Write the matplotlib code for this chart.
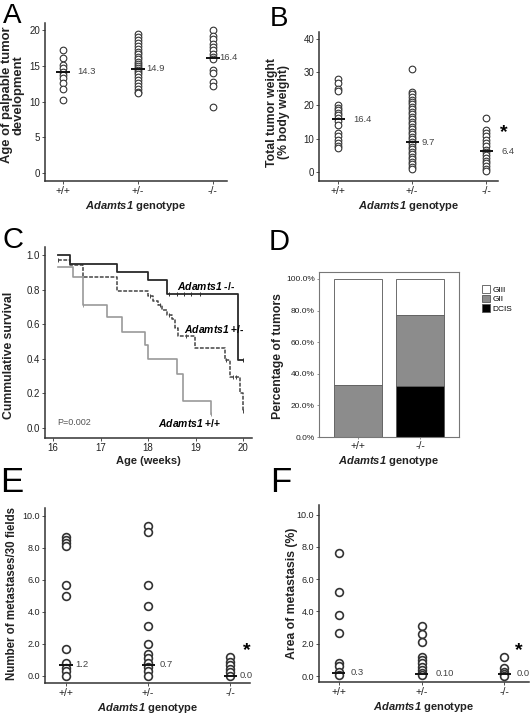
import numpy as np
import matplotlib
matplotlib.use("Agg")
import matplotlib.pyplot as plt

plt.rcParams["font.family"] = ["Liberation Sans", "DejaVu Sans"]
plt.rcParams["mathtext.fontset"] = "custom"
plt.rcParams["mathtext.rm"] = "Liberation Sans"
plt.rcParams["mathtext.it"] = "Liberation Sans:italic"
plt.rcParams["mathtext.bf"] = "Liberation Sans:bold"
plt.rcParams["mathtext.bfit"] = "Liberation Sans:italic:bold"

genotypes = ["+/+", "+/-", "-/-"]

# A: age of palpable tumor development
age_wt = [17.2, 16.1, 15.1, 14.7, 14.2, 13.7, 13.3, 12.6, 11.7, 10.2]
age_het = [19.4, 19.0, 18.6, 18.2, 17.8, 17.4, 17.0, 16.6, 16.2, 15.9, 15.6, 15.3, 15.0,
           14.7, 14.4, 14.1, 13.8, 13.4, 13.0, 12.6, 12.2, 11.8, 11.4, 11.2]
age_ko = [20.0, 19.2, 18.7, 18.1, 17.7, 17.2, 16.7, 16.2, 16.0, 14.4, 14.0, 12.7, 12.2, 9.3]
age_median_line = [14.2, 14.6, 16.1]
age_median_text = ["14.3", "14.9", "16.4"]

# B: total tumor weight
wt_wt = [27.8, 26.8, 24.8, 24.3, 20.0, 19.3, 18.5, 17.7, 17.0, 16.2, 15.2, 14.2,
         11.7, 10.7, 9.7, 8.7, 7.7, 7.2]
wt_het = [30.8, 24.0, 23.3, 22.5, 21.7, 21.0, 20.3, 19.5, 18.8, 18.0, 17.3, 16.5, 15.8,
          15.0, 14.3, 13.5, 12.8, 12.0, 11.3, 10.5, 9.8, 9.0, 8.3, 7.5, 6.8, 6.0, 5.3,
          4.5, 3.8, 3.0, 2.3, 1.5, 0.8]
wt_ko = [16.2, 12.7, 11.7, 10.7, 9.7, 8.7, 7.7, 6.7, 5.9, 5.2, 4.2, 3.4, 2.7, 1.7, 0.9, 0.2]
wt_median_line = [15.9, 8.9, 6.2]
wt_median_text = ["16.4", "9.7", "6.4"]

# C: survival curves (step times / survival)
ko_t = [16.1, 16.36, 17.35, 18.0, 18.4, 19.9, 20.0]
ko_s = [1.0, 0.95, 0.90, 0.855, 0.775, 0.39, 0.39]
ko_cens = [18.45, 18.6, 18.75, 18.9, 19.1, 20.0]
het_t = [16.1, 16.36, 16.63, 17.35, 18.0, 18.1, 18.2, 18.3, 18.4, 18.5, 18.56, 18.63,
         18.99, 19.62, 19.73, 19.94, 20.0]
het_s = [0.97, 0.94, 0.87, 0.79, 0.76, 0.735, 0.71, 0.68, 0.655, 0.63, 0.58, 0.53,
         0.46, 0.39, 0.295, 0.20, 0.10]
het_cens = [16.1, 18.05, 18.25, 18.45, 18.8, 19.65, 19.78, 19.85, 20.0]
wt_t = [16.1, 16.42, 16.63, 17.14, 17.45, 17.94, 18.0, 18.61, 18.74, 19.33]
wt_s = [0.93, 0.87, 0.71, 0.64, 0.555, 0.48, 0.40, 0.31, 0.156, 0.08]
wt_cens = [16.63, 19.33]

# D: tumor grade composition (%)
grade_groups = ["+/+", "-/-"]
dcis = [0.0, 32.0]
gii = [33.0, 45.0]
giii = [67.0, 23.0]

# E: number of metastases / 30 fields
met_wt = [8.7, 8.5, 8.3, 8.1, 5.7, 5.0, 1.7, 0.8, 0.5, 0.3, 0.0]
met_het = [9.4, 9.0, 5.7, 4.4, 3.1, 2.0, 1.4, 1.1, 0.8, 0.55, 0.3, 0.0]
met_ko = [1.2, 0.9, 0.7, 0.45, 0.25, 0.0]
met_median_line = [0.7, 0.7, 0.0]
met_median_text = ["1.2", "0.7", "0.0"]

# F: area of metastasis (%)
area_wt = [7.6, 5.2, 3.8, 2.65, 0.8, 0.6, 0.27, 0.06]
area_het = [3.1, 2.6, 2.1, 1.2, 1.0, 0.8, 0.58, 0.37, 0.2, 0.06]
area_ko = [1.2, 0.48, 0.27, 0.1, 0.02]
area_median_line = [0.2, 0.15, 0.15]
area_median_text = ["0.3", "0.10", "0.0"]

W, H = 532, 716
fig = plt.figure(figsize=(W / 100, H / 100), dpi=100)
TXT = "#222222"
SP = "#333333"
GENO = "$\\bfit{Adamts1}$ genotype"


def px_axes(left, top, right, bottom):
    return fig.add_axes([left / W, 1 - bottom / H, (right - left) / W, (bottom - top) / H])


def style(ax, ticksize=7):
    for s in ["top", "right"]:
        ax.spines[s].set_visible(False)
    for s in ["left", "bottom"]:
        ax.spines[s].set_color(SP)
        ax.spines[s].set_linewidth(1.1)
    ax.tick_params(axis="both", length=2, width=0.6, colors=SP, labelsize=ticksize,
                   labelcolor=TXT, pad=1.5)
    ax.tick_params(axis="x", labelsize=7.5)


def dots(ax, groups, lines, texts, offs, half, ms, mew):
    for i, g in enumerate(groups):
        ax.plot([i] * len(g), g, "o", ms=ms, mfc="white", mec=SP, mew=mew, zorder=3)
        ax.hlines(lines[i], i - half, i + half, color="#111111", lw=1.4, zorder=4)
        ax.annotate(texts[i], (i, lines[i]), xytext=(offs[i], 0), textcoords="offset points",
                    va="center", ha="left", fontsize=6.8, color="#444444")


def labels(ax, ylab, pos, size=8.8, xlab=GENO):
    ax.set_ylabel(ylab, fontsize=size, fontweight="bold", color=TXT, linespacing=1.0)
    ax.yaxis.set_label_coords(*pos)
    ax.set_xlabel(xlab, fontsize=8, fontweight="bold", color=TXT, labelpad=2)


def panel_label(x, y, s, size):
    fig.text(x / W, 1 - y / H, s, fontsize=size, va="top", ha="left", color="black")


# ---- A ----
ax = px_axes(45, 23, 227, 181)
style(ax)
dots(ax, [age_wt, age_het, age_ko], age_median_line, age_median_text, [10, 6, 4.5], 0.09, 4.8, 0.8)
ax.set_xlim(-0.24, 2.19)
ax.set_ylim(-1.12, 21.0)
ax.set_yticks([0, 5, 10, 15, 20])
ax.set_xticks(range(3), genotypes)
labels(ax, "Age of palpable tumor\ndevelopment", (-0.11, 0.545), size=9.4)
panel_label(3, 3, "A", 20)

# ---- B ----
ax = px_axes(319, 32, 498, 181)
style(ax)
dots(ax, [wt_wt, wt_het, wt_ko], wt_median_line, wt_median_text, [11, 7, 11], 0.09, 4.8, 0.8)
ax.set_xlim(-0.26, 2.16)
ax.set_ylim(-2.7, 42)
ax.set_yticks([0, 10, 20, 30, 40])
ax.set_xticks(range(3), genotypes)
labels(ax, "Total tumor weight\n(% body weight)", (-0.16, 0.46))
ax.text(2.24, 11.7, "*", fontsize=14, fontweight="bold", ha="center", va="center")
panel_label(270, 6, "B", 20)

# ---- C ----
ax = px_axes(45, 247, 252, 438)
style(ax)


def surv(t, s, cens, color, ls, lw):
    ax.step(t, s, where="post", color=color, lw=lw, ls=ls)
    cy = [s[max(np.searchsorted(t, c, side="right") - 1, 0)] for c in cens]
    ax.plot(cens, cy, "|", color=color, ms=3.5, mew=0.7)


surv(wt_t, wt_s, wt_cens, "#9a9a9a", "-", 1.2)
surv(het_t, het_s, het_cens, "#444444", (0, (2.5, 1)), 1.1)
surv(ko_t, ko_s, ko_cens, "#2a2a2a", "-", 1.3)
ax.set_xlim(15.83, 20.19)
ax.set_ylim(-0.058, 1.046)
ax.set_xticks([16, 17, 18, 19, 20])
ax.set_yticks([0.0, 0.2, 0.4, 0.6, 0.8, 1.0])
ax.set_yticklabels(["0.0", "0.2", "0.4", "0.6", "0.8", "1.0"])
ax.tick_params(labelsize=7)
labels(ax, "Cummulative survival", (-0.145, 0.43), xlab="Age (weeks)")
ax.text(18.6, 0.82, "$\\bfit{Adamts1}$ -/-", fontsize=7.5, fontweight="bold", ha="left", va="center")
ax.text(18.76, 0.57, "$\\bfit{Adamts1}$ +/-", fontsize=7.5, fontweight="bold", ha="left", va="center")
ax.text(18.2, 0.03, "$\\bfit{Adamts1}$ +/+", fontsize=7.5, fontweight="bold", ha="left", va="center")
ax.text(16.08, 0.03, "P=0.002", fontsize=6.5, color="#555555", ha="left", va="center")
panel_label(3, 226, "C", 21)

# ---- D ----
ax = px_axes(319, 272, 459, 437)
xd = np.arange(len(grade_groups))
bw = 0.77
bot2 = np.array(dcis) + np.array(gii)
ax.bar(xd, dcis, bw, color="black", edgecolor="#555555", lw=0.6, label="DCIS")
ax.bar(xd, gii, bw, bottom=dcis, color="#8c8c8c", edgecolor="#555555", lw=0.6, label="GII")
ax.bar(xd, giii, bw, bottom=bot2, color="white", edgecolor="#555555", lw=0.6, label="GIII")
for s in ax.spines.values():
    s.set_color("#777777")
    s.set_linewidth(0.8)
ax.set_xlim(-0.63, 1.63)
ax.set_ylim(0, 104.4)
ax.set_yticks([0, 20, 40, 60, 80, 100])
ax.set_yticklabels(["0.0%", "20.0%", "40.0%", "60.0%", "80.0%", "100.0%"])
ax.set_xticks(xd, grade_groups)
ax.tick_params(axis="both", length=1.5, width=0.5, colors="#666666", labelsize=6,
               labelcolor=TXT, pad=1.5)
ax.tick_params(axis="x", labelsize=7.5)
labels(ax, "Percentage of tumors", (-0.25, 0.49))
h, l = ax.get_legend_handles_labels()
ax.legend(h[::-1], l[::-1], loc="upper left", bbox_to_anchor=(1.14, 0.94), frameon=False,
          fontsize=6, handlelength=1.0, handleheight=1.0, handletextpad=0.3,
          labelspacing=0.1, borderaxespad=0)
panel_label(269, 228, "D", 21)

# ---- E ----
ax = px_axes(45, 508, 250, 683)
style(ax)
dots(ax, [met_wt, met_het, met_ko], met_median_line, met_median_text, [7, 8, 7], 0.08, 5.6, 1.2)
ax.set_xlim(-0.256, 2.24)
ax.set_ylim(-0.44, 10.5)
ax.set_yticks([0, 2, 4, 6, 8, 10])
ax.set_yticklabels(["0.0", "2.0", "4.0", "6.0", "8.0", "10.0"])
ax.set_xticks(range(3), genotypes)
ax.tick_params(axis="y", labelsize=6.5)
labels(ax, "Number of metastases/30 fields", (-0.13, 0.51), size=8.3)
ax.text(2.2, 1.6, "*", fontsize=14, fontweight="bold", ha="center", va="center")
panel_label(0, 466, "E", 25)

# ---- F ----
ax = px_axes(319, 505, 529, 682)
style(ax)
dots(ax, [area_wt, area_het, area_ko], area_median_line, area_median_text, [8.5, 10, 9], 0.08, 5.6, 1.2)
ax.set_xlim(-0.24, 2.3)
ax.set_ylim(-0.37, 10.6)
ax.set_yticks([0, 2, 4, 6, 8, 10])
ax.set_yticklabels(["0.0", "2.0", "4.0", "6.0", "8.0", "10.0"])
ax.set_xticks(range(3), genotypes)
ax.tick_params(axis="y", labelsize=6.5)
labels(ax, "Area of metastasis (%)", (-0.1, 0.5))
ax.text(2.18, 1.6, "*", fontsize=14, fontweight="bold", ha="center", va="center")
panel_label(270, 466, "F", 25)

fig.savefig("out.png", dpi=100)
